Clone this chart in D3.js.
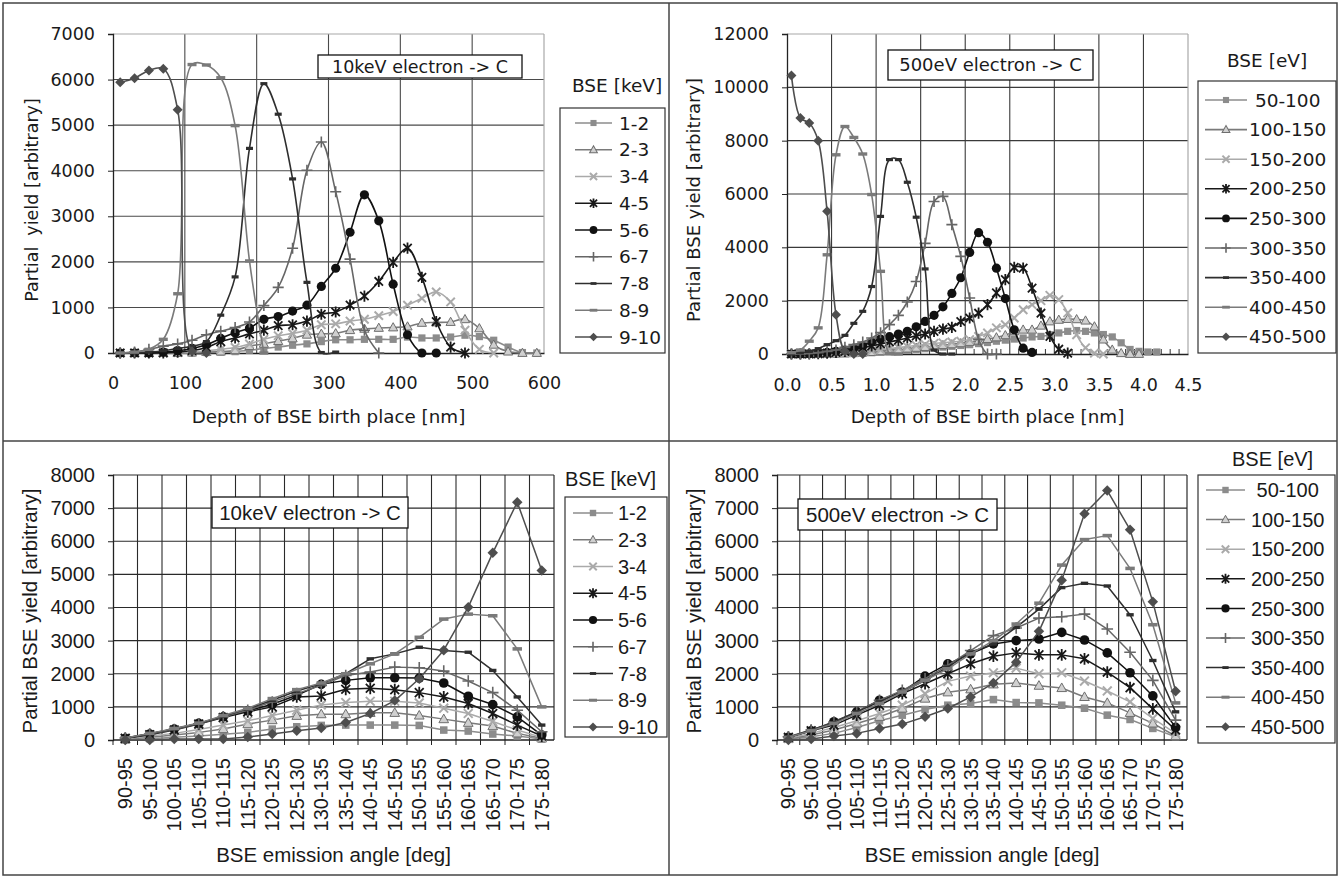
<!DOCTYPE html>
<html><head><meta charset="utf-8">
<script src="https://cdn.jsdelivr.net/npm/d3@7"></script>
<style>
html,body{margin:0;padding:0;background:#fff;}
svg{display:block;}
text{white-space:pre;}
</style></head><body>
<svg id="c" width="1340" height="878"></svg>
<script>
// ---------------- DATA ----------------
// Top-left: 10 keV, depth [nm]
const depthNm = [10,30,50,70,90,110,130,150,170,190,210,230,250,270,290,310,330,350,370,390,410,430,450,470,490,510,530,550,570,590];
const keVLabels = ['1-2','2-3','3-4','4-5','5-6','6-7','7-8','8-9','9-10'];
const depthKeV_1_2  = [0,0,0,0,0,0,10,20,30,60,100,130,170,200,250,290,290,300,300,300,350,330,330,350,390,360,280,130,10,0];
const depthKeV_2_3  = [0,0,0,0,0,10,20,30,60,150,200,260,320,400,420,430,500,530,550,560,580,660,670,680,740,540,180,30,0,0];
const depthKeV_3_4  = [0,0,0,0,10,20,50,80,120,200,300,380,430,500,620,640,700,740,820,910,1050,1200,1340,1120,500,80,0];
const depthKeV_4_5  = [0,0,0,0,20,50,120,250,330,420,500,600,620,700,850,900,1050,1250,1570,1990,2300,1660,690,130,0];
const depthKeV_5_6  = [0,0,0,20,50,100,180,320,450,550,740,800,920,1050,1460,1860,2650,3470,2900,1510,400,0,0];
const depthKeV_6_7  = [0,20,80,150,200,280,400,480,560,680,1040,1440,2300,4010,4630,3540,2060,500,0];
const depthKeV_7_8  = [0,0,20,50,100,150,250,830,1670,4490,5910,5240,3820,1550,10,20];
const depthKeV_8_9  = [0,20,80,300,1300,6330,6320,6040,4990,2020,0];
const depthKeV_9_10 = [5940,6030,6200,6240,5340,40,0];

// Top-right: 500 eV, depth [nm]
const depthA = [0.05,0.15,0.25,0.35,0.45,0.55,0.65,0.75,0.85,0.95,1.05,1.15,1.25,1.35,1.45,1.55,1.65,1.75,1.85,1.95,2.05,2.15,2.25,2.35,2.45,2.55,2.65,2.75,2.85,2.95,3.05,3.15,3.25,3.35,3.45,3.55,3.65,3.75,3.85,3.95,4.05,4.15];
const eVLabels = [' 50-100','100-150','150-200','200-250','250-300','300-350','350-400','400-450','450-500'];
const depthEV_50_100  = [0,0,0,0,0,0,10,20,30,50,70,90,110,140,170,200,230,260,290,320,350,390,430,480,520,560,600,640,660,720,790,850,880,850,790,730,640,420,170,100,75,75];
const depthEV_100_150 = [0,0,0,0,0,10,20,30,50,70,100,130,160,200,230,260,300,330,360,400,450,500,560,620,700,850,910,910,1060,1220,1280,1310,1300,1250,1030,540,160,30,0,0];
const depthEV_150_200 = [0,0,0,0,10,20,40,60,90,120,160,200,240,280,320,360,400,420,450,480,540,660,790,980,1100,1350,1660,1850,2000,2200,2040,1540,720,230,30,0];
const depthEV_200_250 = [0,0,0,10,30,60,100,150,250,300,380,450,520,600,680,750,850,930,1000,1220,1350,1530,1850,2290,2790,3250,3220,2470,1530,660,180,30];
const depthEV_250_300 = [0,0,10,30,60,100,150,220,300,450,560,650,750,850,1020,1220,1450,1770,2270,2860,3810,4550,4190,3220,2080,910,220,60];
const depthEV_300_350 = [0,0,20,50,100,150,250,350,450,600,800,1100,1450,1950,2720,4150,5720,5910,4850,3660,2100,550,0,0];
const depthEV_350_400 = [0,50,100,200,350,500,700,1150,1600,2530,5160,7290,7290,6440,5130,3190,150,0,0];
const depthEV_400_450 = [50,150,480,980,3720,7470,8530,8120,7500,5980,3100,20,0];
const depthEV_450_500 = [10440,8850,8660,8000,5350,1470,100,0,0];

// Bottom: emission angle bins
const angleBins = ['90-95','95-100','100-105','105-110','110-115','115-120','120-125','125-130','130-135','135-140','140-145','145-150','150-155','155-160','160-165','165-170','170-175','175-180'];
const angKeV_1_2  = [10,40,80,120,170,230,330,400,440,450,450,450,440,300,270,180,120,30];
const angKeV_2_3  = [20,80,150,230,330,480,600,730,780,780,820,820,740,630,520,420,200,50];
const angKeV_3_4  = [40,120,200,320,450,580,740,900,1060,1130,1170,1170,1120,960,800,560,300,80];
const angKeV_4_5  = [50,160,300,480,680,850,1000,1300,1330,1530,1560,1520,1430,1300,1100,800,450,120];
const angKeV_5_6  = [50,180,330,500,700,880,1080,1350,1680,1800,1880,1880,1870,1720,1320,1070,700,150];
const angKeV_6_7  = [60,180,320,490,700,900,1150,1400,1650,1950,2050,2200,2180,2080,1780,1430,900,250];
const angKeV_7_8  = [60,190,340,500,720,940,1200,1480,1700,2000,2450,2600,2800,2700,2650,2100,1300,450];
const angKeV_8_9  = [60,200,350,510,740,960,1250,1520,1720,2000,2300,2600,3100,3650,3800,3750,2750,1000];
const angKeV_9_10 = [0,0,30,30,30,90,180,280,360,530,800,1190,1850,2710,4010,5650,7180,5120];

const angEV_50_100  = [30,100,200,380,580,750,920,1050,1100,1220,1130,1120,1050,960,750,620,350,100];
const angEV_100_150 = [40,150,300,500,700,950,1250,1440,1530,1680,1720,1640,1570,1300,1120,820,500,120];
const angEV_150_200 = [50,200,380,580,800,1050,1400,1770,1930,2030,2170,2000,2030,1780,1480,1150,650,200];
const angEV_200_250 = [80,280,450,750,1050,1400,1700,2000,2300,2530,2630,2570,2570,2450,2050,1580,940,300];
const angEV_250_300 = [80,280,550,850,1200,1450,1930,2300,2600,2900,3000,3050,3250,3020,2630,2030,1330,380];
const angEV_300_350 = [100,300,540,850,1200,1500,1850,2250,2700,3150,3380,3680,3720,3800,3350,2650,1800,600];
const angEV_350_400 = [80,300,520,850,1150,1450,1800,2200,2650,2900,3400,3950,4600,4730,4650,3780,2400,850];
const angEV_400_450 = [80,280,500,800,1100,1450,1800,2150,2600,3000,3500,4130,5280,6050,6170,5180,3480,1120];
const angEV_450_500 = [0,30,120,200,350,480,700,950,1300,1720,2350,3280,4820,6830,7530,6350,4170,1470];

const ticksNm = [0,100,200,300,400,500,600];
const ticksA = [0,0.5,1,1.5,2,2.5,3,3.5,4,4.5];
const ticksY7 = [0,1000,2000,3000,4000,5000,6000,7000];
const ticksY12 = [0,2000,4000,6000,8000,10000,12000];
const ticksY8 = [0,1000,2000,3000,4000,5000,6000,7000,8000];
const minorA = [0.1,0.2,0.3,0.4,0.6,0.7,0.8,0.9,1.1,1.2,1.3,1.4,1.6,1.7,1.8,1.9,2.1,2.2,2.3,2.4,2.6,2.7,2.8,2.9,3.1,3.2,3.3,3.4,3.6,3.7,3.8,3.9,4.1,4.2,4.3,4.4];

// ---------------- STYLE ----------------
const TOPF = "'DejaVu Sans', sans-serif";
const BOTF = "'Liberation Sans', Arial, sans-serif";
const TXT = '#1a1a1a';
const styles = [
  {m:'square',   line:'#8c8c8c', fill:'#8c8c8c', stroke:'none', sw:0},
  {m:'triangle', line:'#7a7a7a', fill:'#d0d0d0', stroke:'#6e6e6e', sw:1},
  {m:'x',        line:'#aaaaaa', fill:'none', stroke:'#aaaaaa', sw:2},
  {m:'asterisk', line:'#181818', fill:'none', stroke:'#181818', sw:1.8},
  {m:'circle',   line:'#111111', fill:'#111111', stroke:'none', sw:0},
  {m:'plus',     line:'#666666', fill:'none', stroke:'#666666', sw:1.6},
  {m:'dashS',    line:'#2e2e2e', fill:'#2e2e2e', stroke:'none', sw:0},
  {m:'dash',     line:'#7a7a7a', fill:'#7a7a7a', stroke:'none', sw:0},
  {m:'diamond',  line:'#4e4e4e', fill:'#4e4e4e', stroke:'none', sw:0}
];
const markerPaths = {
  square:'M-3.6,-3.6h7.2v7.2h-7.2z',
  triangle:'M0,-4.8L4.6,3.4L-4.6,3.4Z',
  x:'M-4.2,-4.2L4.2,4.2M-4.2,4.2L4.2,-4.2',
  asterisk:'M-4.2,-4.2L4.2,4.2M-4.2,4.2L4.2,-4.2M0,-5.6V5.6',
  circle:'M-4.6,0a4.6,4.6 0 1,0 9.2,0a4.6,4.6 0 1,0 -9.2,0',
  plus:'M-5.5,0H5.5M0,-5.5V5.5',
  dashS:'M-3.5,-1.6h7v3.2h-7z',
  dash:'M-4.5,-1.7h9v3.4h-9z',
  diamond:'M0,-5L5,0L0,5L-5,0Z'
};

const svg = d3.select('#c');
svg.append('rect').attr('width',1340).attr('height',878).attr('fill','#fff');

function drawMarker(g, st, x, y, k) {
  g.append('path').attr('d', markerPaths[st.m])
    .attr('transform', `translate(${x},${y}) scale(${k})`)
    .attr('fill', st.fill).attr('stroke', st.stroke).attr('stroke-width', st.sw / k);
}

function panel(cfg) {
  const g = svg.append('g');
  const y = d3.scaleLinear().domain([0, cfg.yMax]).range([cfg.y0, cfg.y1]);
  let xpos, x;
  if (cfg.band) {
    x = d3.scaleBand().domain(cfg.cats).range([cfg.x0, cfg.x1]).padding(0);
    xpos = c => x(c) + x.bandwidth() / 2;
  } else {
    x = d3.scaleLinear().domain([0, cfg.xMax]).range([cfg.x0, cfg.x1]);
    xpos = v => x(v);
  }
  // gridlines
  const grid = g.append('g');
  grid.selectAll('line.h').data(cfg.yTicks.filter(v => v > 0 && v < cfg.yMax)).join('line')
    .attr('x1', cfg.x0).attr('x2', cfg.x1).attr('y1', d => y(d)).attr('y2', d => y(d))
    .attr('stroke', cfg.gridColor).attr('stroke-width', 1.1);
  const vData = cfg.band ? cfg.cats.slice(1) : cfg.xTicks.filter(v => v > 0 && v < cfg.xMax);
  grid.selectAll('line.v').data(vData).join('line')
    .attr('x1', d => x(d)).attr('x2', d => x(d)).attr('y1', cfg.y0).attr('y2', cfg.y1)
    .attr('stroke', cfg.gridColor).attr('stroke-width', 1.1);
  // frame top/right
  g.append('line').attr('x1', cfg.x0).attr('x2', cfg.x1).attr('y1', cfg.y1).attr('y2', cfg.y1)
    .attr('stroke', cfg.frameColor).attr('stroke-width', 1.2);
  g.append('line').attr('x1', cfg.x1).attr('x2', cfg.x1).attr('y1', cfg.y1).attr('y2', cfg.y0)
    .attr('stroke', cfg.frameColor).attr('stroke-width', 1.2);

  // y axis
  const ya = g.append('g').attr('transform', `translate(${cfg.x0},0)`)
    .call(d3.axisLeft(y).tickValues(cfg.yTicks).tickSize(5).tickPadding(13).tickFormat(d3.format('d')));
  ya.select('.domain').attr('stroke', '#222').attr('stroke-width', 1.3);
  ya.selectAll('.tick line').attr('stroke', '#222');
  ya.selectAll('text').attr('font-family', cfg.font).attr('font-size', cfg.tickFs).attr('fill', TXT);

  // x axis
  if (cfg.band) {
    const xa = g.append('g');
    xa.append('line').attr('x1', cfg.x0).attr('x2', cfg.x1).attr('y1', cfg.y0).attr('y2', cfg.y0).attr('stroke', '#222').attr('stroke-width', 1.3);
    xa.selectAll('line.t').data(cfg.cats).join('line')
      .attr('x1', d => x(d)).attr('x2', d => x(d)).attr('y1', cfg.y0).attr('y2', cfg.y0 + 5).attr('stroke', '#222');
    xa.selectAll('text').data(cfg.cats).join('text')
      .attr('transform', d => `translate(${xpos(d)},${cfg.y0 + 18}) rotate(-90)`)
      .attr('text-anchor', 'end').attr('dy', '0.35em')
      .attr('font-family', cfg.font).attr('font-size', cfg.tickFs).attr('fill', TXT).text(d => d);
  } else {
    const xa = g.append('g').attr('transform', `translate(0,${cfg.y0})`)
      .call(d3.axisBottom(x).tickValues(cfg.xTicks).tickSize(0).tickPadding(cfg.xPad).tickFormat(cfg.xFmt));
    xa.select('.domain').attr('stroke', '#222').attr('stroke-width', 1.3);
    xa.selectAll('text').attr('font-family', cfg.font).attr('font-size', cfg.tickFs).attr('fill', TXT);
    if (cfg.minor) {
      g.selectAll('line.minor').data(cfg.minor).join('line')
        .attr('x1', d => x(d)).attr('x2', d => x(d)).attr('y1', cfg.y0).attr('y2', cfg.y0 - 5)
        .attr('stroke', '#333').attr('stroke-width', 1);
    }
  }

  // series
  const line = d3.line().x(d => xpos(d[0])).y(d => y(d[1]));
  if (cfg.smooth) line.curve(d3.curveCatmullRom.alpha(0.5));
  cfg.series.forEach((vals, i) => {
    const st = styles[i];
    const pts = vals.map((v, j) => [cfg.xs[j], v]);
    g.append('path').datum(pts).attr('d', line).attr('fill', 'none')
      .attr('stroke', st.line).attr('stroke-width', cfg.lw).attr('stroke-linejoin', 'round');
    pts.forEach(p => drawMarker(g, st, xpos(p[0]), y(p[1]), cfg.mk));
  });

  // annotation box
  const a = cfg.ann;
  g.append('rect').attr('x', a.x).attr('y', a.y).attr('width', a.w).attr('height', a.h)
    .attr('fill', '#fff').attr('stroke', '#111').attr('stroke-width', 1.3);
  g.append('text').attr('x', a.x + a.w / 2).attr('y', a.y + a.h / 2).attr('dy', '0.36em')
    .attr('text-anchor', 'middle').attr('font-family', cfg.font).attr('font-size', a.fs).attr('fill', TXT).text(a.text);

  // axis titles
  g.append('text').attr('x', (cfg.x0 + cfg.x1) / 2).attr('y', cfg.xtY).attr('text-anchor', 'middle')
    .attr('font-family', cfg.font).attr('font-size', cfg.titleFs).attr('fill', TXT).text(cfg.xTitle);
  g.append('text').attr('transform', `translate(${cfg.ytX},${cfg.ytY}) rotate(-90)`).attr('dy', '0.35em')
    .attr('text-anchor', 'middle').attr('font-family', cfg.font).attr('font-size', cfg.yTitleFs || cfg.titleFs).attr('fill', TXT).text(cfg.yTitle);

  // legend
  const L = cfg.leg;
  g.append('text').attr('x', L.tx).attr('y', L.ty).attr('dy', '0.36em').attr('font-family', cfg.font)
    .attr('font-size', L.fs).attr('fill', TXT).text(L.title);
  g.append('rect').attr('x', L.bx).attr('y', L.by).attr('width', L.bw).attr('height', L.bh)
    .attr('fill', '#fff').attr('stroke', '#333').attr('stroke-width', 1.2);
  cfg.labels.forEach((lab, i) => {
    const st = styles[i];
    const yy = L.iy0 + L.dy * i;
    g.append('line').attr('x1', L.lx0).attr('x2', L.lx1).attr('y1', yy).attr('y2', yy)
      .attr('stroke', st.line).attr('stroke-width', cfg.lw);
    drawMarker(g, st, (L.lx0 + L.lx1) / 2, yy, cfg.mk * 0.85);
    g.append('text').attr('x', L.textX).attr('y', yy).attr('dy', '0.36em').attr('font-family', cfg.font)
      .attr('font-size', L.fs).attr('fill', TXT).text(lab);
  });
}

// Panel 1: 10 keV depth
panel({
  x0:113, x1:544, y0:353, y1:34, xMax:600, yMax:7000,
  xTicks:ticksNm, yTicks:ticksY7, xFmt:d3.format('d'), xPad:24,
  xs:depthNm,
  series:[depthKeV_1_2,depthKeV_2_3,depthKeV_3_4,depthKeV_4_5,depthKeV_5_6,depthKeV_6_7,depthKeV_7_8,depthKeV_8_9,depthKeV_9_10],
  labels:keVLabels, smooth:true, font:TOPF, tickFs:17.5, titleFs:18.3, yTitleFs:17.5, lw:1.6, mk:1,
  gridColor:'#4a4a4a', frameColor:'#a8a8a8',
  ann:{x:318, y:55, w:204, h:23, text:'10keV electron -> C', fs:17.5},
  xTitle:'Depth of BSE birth place [nm]', xtY:423,
  yTitle:'Partial  yield [arbitrary]', ytX:32, ytY:200,
  leg:{title:'BSE [keV]', tx:572, ty:85, fs:18.5, bx:560, by:108, bw:105, bh:245,
       iy0:123, dy:26.75, lx0:575, lx1:612, textX:619}
});

// Panel 2: 500 eV depth
panel({
  x0:787, x1:1188, y0:354, y1:34, xMax:4.5, yMax:12000,
  xTicks:ticksA, yTicks:ticksY12, xFmt:d3.format('.1f'), xPad:25,
  minor:minorA,
  xs:depthA,
  series:[depthEV_50_100,depthEV_100_150,depthEV_150_200,depthEV_200_250,depthEV_250_300,depthEV_300_350,depthEV_350_400,depthEV_400_450,depthEV_450_500],
  labels:eVLabels, smooth:true, font:TOPF, tickFs:17.5, titleFs:18.3, yTitleFs:18, lw:1.6, mk:1,
  gridColor:'#3a3a3a', frameColor:'#a8a8a8',
  ann:{x:888, y:50, w:205, h:30, text:'500eV electron -> C', fs:18},
  xTitle:'Depth of BSE birth place [nm]', xtY:423,
  yTitle:'Partial BSE yield [arbitrary]', ytX:694, ytY:200,
  leg:{title:'BSE [eV]', tx:1227, ty:60, fs:18.5, bx:1198, by:81, bw:138, bh:272,
       iy0:100, dy:29.6, lx0:1205, lx1:1247, textX:1249}
});

// Panel 3: 10 keV angle
panel({
  band:true, cats:angleBins, x0:113, x1:554, y0:740, y1:475, yMax:8000,
  yTicks:ticksY8, xs:angleBins,
  series:[angKeV_1_2,angKeV_2_3,angKeV_3_4,angKeV_4_5,angKeV_5_6,angKeV_6_7,angKeV_7_8,angKeV_8_9,angKeV_9_10],
  labels:keVLabels, smooth:false, font:BOTF, tickFs:20, titleFs:20.5, lw:1.5, mk:1.05,
  gridColor:'#2a2a2a', frameColor:'#2a2a2a',
  ann:{x:212, y:497, w:196, h:31, text:'10keV electron -> C', fs:20.5},
  xTitle:'BSE emission angle [deg]', xtY:862,
  yTitle:'Partial BSE yield [arbitrary]', ytX:30, ytY:611,
  leg:{title:'BSE [keV]', tx:565, ty:479, fs:20, bx:565, by:497, bw:102, bh:240,
       iy0:513, dy:26.75, lx0:573, lx1:613, textX:618}
});

// Panel 4: 500 eV angle
panel({
  band:true, cats:angleBins, x0:777, x1:1187, y0:740, y1:475, yMax:8000,
  yTicks:ticksY8, xs:angleBins,
  series:[angEV_50_100,angEV_100_150,angEV_150_200,angEV_200_250,angEV_250_300,angEV_300_350,angEV_350_400,angEV_400_450,angEV_450_500],
  labels:eVLabels, smooth:false, font:BOTF, tickFs:20, titleFs:20.5, lw:1.5, mk:1.05,
  gridColor:'#2a2a2a', frameColor:'#2a2a2a',
  ann:{x:798, y:499, w:199, h:31, text:'500eV electron -> C', fs:20.5},
  xTitle:'BSE emission angle [deg]', xtY:862,
  yTitle:'Partial BSE yield [arbitrary]', ytX:694, ytY:611,
  leg:{title:'BSE [eV]', tx:1232, ty:459, fs:20, bx:1198, by:475, bw:137, bh:268,
       iy0:490, dy:29.6, lx0:1206, lx1:1245, textX:1251}
});

// Frame / dividers
const fr = svg.append('g').attr('stroke', '#444').attr('stroke-width', 1.5).attr('fill', 'none');
fr.append('rect').attr('x', 3).attr('y', 3).attr('width', 1334).attr('height', 872);
fr.append('line').attr('x1', 669).attr('x2', 669).attr('y1', 3).attr('y2', 875);
fr.append('line').attr('x1', 3).attr('x2', 1337).attr('y1', 441).attr('y2', 441);
</script></body></html>
